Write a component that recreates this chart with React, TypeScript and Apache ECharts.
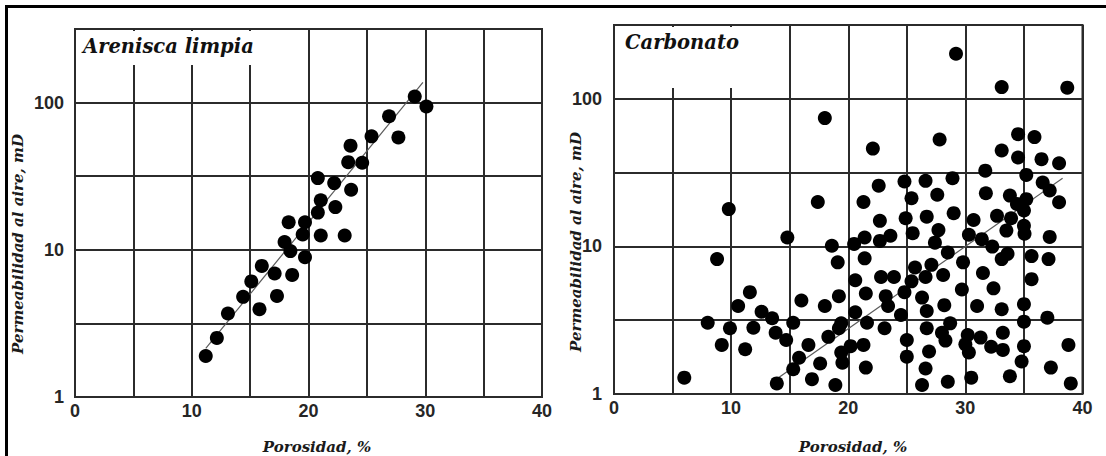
import { useEffect, useRef } from "react";
import * as echarts from "echarts";

// ---- Data ----
const panelTitles = ["Arenisca limpia", "Carbonato"];
const xTitle = "Porosidad, %";
const yTitle = "Permeabilidad al aire, mD";
const xTickLabels = [0, 10, 20, 30, 40];
const yTickLabels = [1, 10, 100];

// Clean sandstone (Arenisca limpia)
const sandPorosity = [
  11.2, 12.15, 13.1, 14.4, 15.1, 15.8, 16.0, 17.1, 17.3, 17.95, 18.3, 18.45, 18.6, 19.5, 19.7, 19.7,
  20.8, 20.8, 21.05, 21.05, 22.2, 22.3, 23.1, 23.6, 23.4, 23.65, 24.6, 25.4, 26.9, 27.7, 29.1, 30.1,
];
const sandPerm = [
  1.9, 2.52, 3.69, 4.79, 6.1, 3.95, 7.77, 6.9, 4.86, 11.3, 15.4, 9.8, 6.75, 12.7, 15.4, 8.9,
  17.9, 30.7, 21.7, 12.5, 28.4, 19.5, 12.5, 51, 39.4, 25.6, 39, 59, 80.7, 58, 110, 94,
];
const sandTrendPorosity = [11.2, 29.8];
const sandTrendPerm = [2.14, 137];

// Carbonate (Carbonato)
const carbPorosity = [
  29.2, 33.1, 38.7, 18.0, 34.5, 35.9, 27.8, 22.1, 33.1, 34.5, 36.5, 38.0, 31.7, 35.2, 28.9, 24.8,
  26.6, 22.6, 36.6, 37.2, 27.6, 31.75, 33.8, 25.4, 35.2, 38.0, 17.4, 21.3, 34.4, 9.8, 35.0, 29.0,
  26.7, 32.7, 33.9, 24.9, 22.7, 30.7, 35.0, 27.7, 33.5, 25.5, 35.05, 14.8, 23.6, 21.4, 30.3, 31.4,
  37.2, 22.7, 27.4, 20.5, 32.3, 18.6, 28.5, 33.6, 35.65, 33.1, 8.8, 21.4, 37.1, 19.1, 29.8, 27.1,
  25.7, 31.5, 28.1, 22.8, 23.9, 26.6, 20.6, 35.65, 25.4, 29.7, 32.4, 11.6, 24.8, 21.5, 23.2, 19.2,
  26.3, 16.0, 10.6, 18.0, 28.2, 31.0, 23.4, 35.0, 26.7, 33.1, 12.6, 20.6, 13.5, 24.5, 37.0, 8.0,
  15.3, 19.4, 21.6, 28.7, 35.0, 9.9, 11.9, 19.2, 23.1, 26.7, 13.8, 28.0, 33.2, 18.3, 30.2, 14.7,
  25.0, 28.3, 31.3, 9.2, 16.6, 20.2, 21.3, 30.0, 32.2, 35.0, 38.8, 11.2, 19.4, 30.3, 33.2, 26.9,
  15.8, 25.0, 17.6, 19.5, 34.8, 15.3, 21.5, 26.6, 37.3, 6.0, 16.9, 30.5, 33.8, 13.9, 18.9, 26.3,
  28.5, 39.0,
];
const carbPerm = [
  202, 120, 119, 74, 57.6, 55, 53, 46, 44.6, 40, 39, 36.6, 32.6, 30.5, 29, 27.5,
  27.8, 25.8, 27.1, 23.9, 22.4, 22.9, 22.1, 21.2, 20.9, 19.9, 20, 20, 19.4, 17.9, 17.5, 16.8,
  15.9, 16.1, 15.5, 15.5, 14.9, 15.1, 13.8, 12.9, 12.8, 12.3, 12.2, 11.5, 11.8, 11.5, 12.0, 11.2,
  11.6, 10.9, 10.6, 10.4, 9.97, 10.1, 9.1, 8.9, 8.6, 8.2, 8.2, 8.3, 8.2, 7.8, 7.8, 7.5,
  7.2, 6.6, 6.4, 6.2, 6.2, 6.2, 5.9, 6.0, 5.8, 5.1, 5.2, 4.9, 4.9, 4.8, 4.6, 4.6,
  4.5, 4.3, 3.95, 3.95, 4.0, 3.95, 3.95, 4.06, 3.65, 3.75, 3.61, 3.58, 3.26, 3.43, 3.29, 3.04,
  3.04, 3.01, 3.04, 3.01, 3.09, 2.79, 2.81, 2.79, 2.79, 2.79, 2.6, 2.6, 2.6, 2.44, 2.51, 2.32,
  2.32, 2.3, 2.41, 2.15, 2.15, 2.11, 2.15, 2.17, 2.09, 2.11, 2.15, 2.01, 1.91, 1.91, 1.99, 1.94,
  1.76, 1.79, 1.61, 1.63, 1.66, 1.47, 1.51, 1.49, 1.51, 1.29, 1.26, 1.29, 1.32, 1.18, 1.15, 1.15,
  1.21, 1.18,
];
const carbTrendPorosity = [14.1, 38.3];
const carbTrendPerm = [1.3, 29];

const zip = (xs: number[], ys: number[]) => xs.map((x, i) => [x, ys[i]]);

const LABEL_FONT = '"Liberation Sans", Arial, sans-serif';
const SERIF = '"DejaVu Serif", serif';
const GRID_COLOR = "#2b2b2b";

function makeXAxis(gridIndex: number) {
  return {
    type: "value",
    gridIndex,
    min: 0,
    max: 40,
    interval: 5,
    axisLine: { show: false },
    axisTick: { show: false },
    splitLine: { show: true, lineStyle: { color: GRID_COLOR, width: 2 } },
    axisLabel: {
      fontFamily: LABEL_FONT,
      fontWeight: "bold",
      fontSize: 18,
      color: "#262626",
      margin: 5,
      formatter: (v: number) => (xTickLabels.includes(v) ? String(v) : ""),
    },
  };
}

function makeYAxis(gridIndex: number, margin: number) {
  return {
    type: "log",
    logBase: Math.sqrt(10),
    gridIndex,
    min: 1,
    max: Math.pow(10, 2.5),
    splitNumber: 5,
    axisLine: { show: false },
    axisTick: { show: false },
    splitLine: { show: true, lineStyle: { color: GRID_COLOR, width: 2 } },
    axisLabel: {
      fontFamily: LABEL_FONT,
      fontWeight: "bold",
      fontSize: 18,
      color: "#262626",
      margin,
      formatter: (v: number) => {
        const l = Math.log10(v);
        const r = Math.round(l);
        const val = Math.pow(10, r);
        return Math.abs(l - r) < 1e-6 && yTickLabels.includes(val) ? String(val) : "";
      },
    },
  };
}

export default function App() {
  const ref = useRef<HTMLDivElement>(null);

  useEffect(() => {
    if (!ref.current) return;
    const chart = echarts.init(ref.current, undefined, { renderer: "svg" });

    const grids = [
      { left: 75, top: 29, width: 467, height: 368 },
      { left: 614, top: 25, width: 468.5, height: 369 },
    ].map((g) => ({
      ...g,
      show: true,
      borderColor: GRID_COLOR,
      borderWidth: 2,
      backgroundColor: "#fff",
      containLabel: false,
      outerBoundsMode: "none",
    }));

    const dotStyle = { color: "#000", opacity: 1 };
    const trendStyle = { color: "#5a5a5a", width: 1.2, opacity: 1 };
    const titleStyle = (text: string) => ({
      text,
      font: `italic bold 19.5px ${SERIF}`,
      fill: "#111",
      textAlign: "left",
      textVerticalAlign: "middle",
    });
    const axisTitleStyle = (text: string) => ({
      text,
      font: `italic bold 15px ${SERIF}`,
      fill: "#1a1a1a",
      textAlign: "center",
      textVerticalAlign: "middle",
    });

    const option: any = {
      animation: false,
      backgroundColor: "#fff",
      grid: grids,
      xAxis: [makeXAxis(0), makeXAxis(1)],
      yAxis: [makeYAxis(0, 11), makeYAxis(1, 12)],
      series: [
        {
          type: "line",
          xAxisIndex: 0,
          yAxisIndex: 0,
          data: zip(sandTrendPorosity, sandTrendPerm),
          symbol: "none",
          lineStyle: trendStyle,
          z: 1,
          silent: true,
        },
        {
          type: "scatter",
          xAxisIndex: 0,
          yAxisIndex: 0,
          data: zip(sandPorosity, sandPerm),
          symbolSize: 14,
          itemStyle: dotStyle,
          z: 2,
        },
        {
          type: "line",
          xAxisIndex: 1,
          yAxisIndex: 1,
          data: zip(carbTrendPorosity, carbTrendPerm),
          symbol: "none",
          lineStyle: trendStyle,
          z: 1,
          silent: true,
        },
        {
          type: "scatter",
          xAxisIndex: 1,
          yAxisIndex: 1,
          data: zip(carbPorosity, carbPerm),
          symbolSize: 14,
          itemStyle: dotStyle,
          z: 2,
        },
      ],
      graphic: [
        // outer frame
        { type: "rect", z: 50, shape: { x: 5, y: 5, width: 1101, height: 3 }, style: { fill: "#000" } },
        { type: "rect", z: 50, shape: { x: 5, y: 5, width: 3, height: 451 }, style: { fill: "#000" } },
        // title boxes
        { type: "rect", z: 50, shape: { x: 77, y: 31, width: 180, height: 34 }, style: { fill: "#fff" } },
        { type: "text", z: 51, x: 83, y: 46, style: titleStyle(panelTitles[0]) },
        { type: "rect", z: 50, shape: { x: 616, y: 27, width: 126, height: 61 }, style: { fill: "#fff" } },
        { type: "text", z: 51, x: 625, y: 42, style: titleStyle(panelTitles[1]) },
        // axis titles
        { type: "text", z: 51, x: 18, y: 244, rotation: Math.PI / 2, style: axisTitleStyle(yTitle) },
        { type: "text", z: 51, x: 575.5, y: 242, rotation: Math.PI / 2, style: axisTitleStyle(yTitle) },
        { type: "text", z: 51, x: 317, y: 447, style: axisTitleStyle(xTitle) },
        { type: "text", z: 51, x: 853, y: 447, style: axisTitleStyle(xTitle) },
      ],
    };

    chart.setOption(option);
    return () => chart.dispose();
  }, []);

  return (
    <div
      ref={ref}
      style={{ position: "absolute", left: 0, top: 0, width: 1106, height: 456, background: "#fff" }}
    />
  );
}
